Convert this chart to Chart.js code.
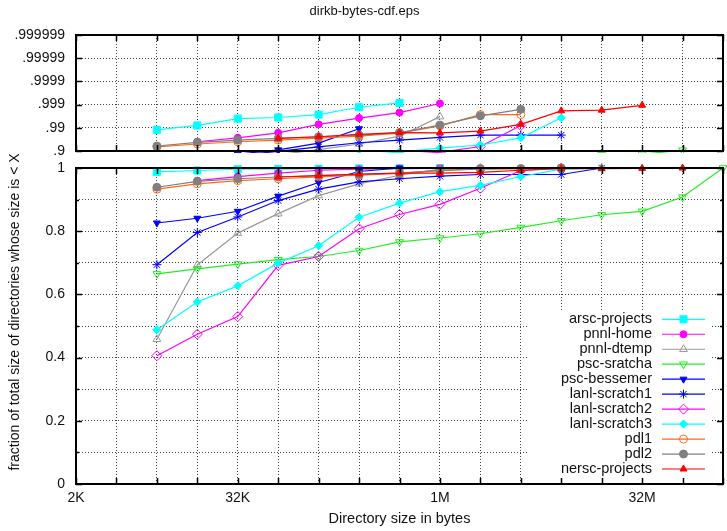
<!DOCTYPE html>
<html lang="en">
<head>
<meta charset="UTF-8">
<title>dirkb-bytes-cdf</title>
<style>
  html, body { margin: 0; padding: 0; background: #fff; }
  .wrap { position: relative; width: 727px; height: 531px; overflow: hidden; background: #fff;
          font-family: "Liberation Sans", Arial, sans-serif; }
  .wrap canvas { position: absolute; left: 0; top: 0; }
  .ytitle { position: absolute; left: -186px; top: 304px; width: 400px; height: 16px; line-height: 16px;
            text-align: center; font-size: 14px; color: #111; transform: rotate(-90deg); white-space: nowrap; }
</style>
</head>
<body>
<div class="wrap">
  <canvas id="topChart" width="729" height="531"></canvas>
  <canvas id="bottomChart" width="729" height="531"></canvas>
  <div class="ytitle">fraction of total size of directories whose size is &lt; X</div>
</div>

<script src="https://cdn.jsdelivr.net/npm/chart.js"></script>
<script>
// directory size buckets (bytes)
const sizes = [8192, 16384, 32768, 65536, 131072, 262144, 524288, 1048576,
               2097152, 4194304, 8388608, 16777216, 33554432, 67108864, 134217728];

const seriesNames = ['arsc-projects', 'pnnl-home', 'pnnl-dtemp', 'psc-sratcha', 'psc-bessemer',
                     'lanl-scratch1', 'lanl-scratch2', 'lanl-scratch3', 'pdl1', 'pdl2', 'nersc-projects'];

// cumulative fraction per bucket
const arscProjects  = [0.9878, 0.9921, 0.9960, 0.9964, 0.9973, 0.9987, 0.99915, 1, null, null, null, null, null, null, null];
const pnnlHome      = [null, 0.960, 0.973, 0.9836, 0.9929, 0.9962, 0.9978, 0.9991, 1, null, null, null, null, null, null];
const pnnlDtemp     = [0.458, 0.693, 0.794, 0.8555, 0.9125, 0.950, 0.977, 0.9967, 1, null, null, null, null, null, null];
const pscSratcha    = [0.665, 0.681, 0.696, 0.710, 0.720, 0.739, 0.766, 0.7785, 0.792, 0.812, 0.833, 0.852, 0.863, 0.908, 1];
const pscBessemer   = [0.826, 0.841, 0.863, 0.911, 0.954, 0.989, 1, null, null, null, null, null, null, null, null];
const lanlScratch1  = [0.694, 0.796, 0.845, 0.897, 0.933, 0.956, 0.966, 0.974, 0.9794, 0.9794, 0.9794, 1, null, null, null];
const lanlScratch2  = [0.406, 0.474, 0.530, 0.692, 0.720, 0.808, 0.853, 0.885, 0.936, 0.992, 1, null, null, null, null];
const lanlScratch3  = [0.488, 0.576, 0.627, 0.699, 0.754, 0.844, 0.889, 0.925, 0.945, 0.973, 0.9963, 1, null, null, null];
const pdl1          = [0.933, 0.950, 0.960, 0.966, 0.972, 0.977, 0.983, 0.9918, 0.9973, 0.9973, 1, null, null, null, null];
const pdl2          = [0.939, 0.9577, 0.966, 0.9715, 0.9757, 0.9794, 0.984, 0.9923, 0.99695, 0.9984, 1, null, null, null, null];
const nerscProjects = [null, null, null, 0.9715, 0.9757, 0.9808, 0.984, 0.9836, 0.9862, 0.9929, 0.99814, 0.99826, 0.99893, 1, null];

const seriesValues = [arscProjects, pnnlHome, pnnlDtemp, pscSratcha, pscBessemer,
                      lanlScratch1, lanlScratch2, lanlScratch3, pdl1, pdl2, nerscProjects];

// tick labels
const xTickValues = [2048, 32768, 1048576, 33554432];
const xTickLabels = ['2K', '32K', '1M', '32M'];
const nineLabels = ['.9', '.99', '.999', '.9999', '.99999', '.999999'];
const fracLabels = ['0', '0.2', '0.4', '0.6', '0.8', '1'];

// look of each series (gnuplot-ish)
const styles = [
  { color: '#00ffff', point: 'rect', radius: 5, fill: true },
  { color: '#ff00ff', point: 'circle', radius: 3.5, fill: true },
  { color: '#9a9a9a', point: 'triangle', radius: 4.5, fill: false },
  { color: '#22ee22', point: 'triangle', rotation: 180, radius: 4.5, fill: false },
  { color: '#0000ff', point: 'triangle', rotation: 180, radius: 4, fill: true },
  { color: '#0000ff', point: 'star', radius: 4.5, fill: false },
  { color: '#ff00ff', point: 'rectRot', radius: 5, fill: false },
  { color: '#00ffff', point: 'rectRot', radius: 4, fill: true },
  { color: '#ff6a1a', point: 'circle', radius: 4, fill: false },
  { color: '#808080', point: 'circle', radius: 4, fill: true },
  { color: '#ff0000', point: 'triangle', radius: 4, fill: true }
];

const FONT = '"Liberation Sans", Arial, sans-serif';
const TXT = '#111';

function makeSets(transform, clip) {
  return seriesNames.map((name, i) => {
    const st = styles[i];
    const bg = st.fill ? st.color : 'rgba(0,0,0,0)';
    return {
      label: name,
      data: sizes.map((s, j) => ({ x: s, y: transform(seriesValues[i][j]) })),
      borderColor: st.color,
      backgroundColor: bg,
      borderWidth: 1.2,
      pointStyle: st.point,
      pointRotation: st.rotation || 0,
      pointRadius: st.radius,
      pointHoverRadius: st.radius,
      pointBorderColor: st.color,
      pointBackgroundColor: bg,
      pointBorderWidth: 1,
      tension: 0,
      spanGaps: false,
      clip: clip,
      order: seriesNames.length - i
    };
  });
}

function doublingTicks(scale) {
  const t = [];
  for (let v = 2048; v <= 134217728; v *= 2) t.push({ value: v });
  scale.ticks = t;
}

// black frame + inward tick marks like gnuplot
const framePlugin = {
  id: 'frame',
  afterDraw(chart) {
    const { ctx, chartArea: a, scales } = chart;
    ctx.save();
    ctx.strokeStyle = '#000';
    ctx.lineWidth = 2;
    ctx.strokeRect(a.left, a.top, a.right - a.left, a.bottom - a.top);
    ctx.lineWidth = 1.5;
    ctx.beginPath();
    scales.x.ticks.forEach(t => {
      const px = Math.round(scales.x.getPixelForValue(t.value)) + 0.5;
      ctx.moveTo(px, a.bottom); ctx.lineTo(px, a.bottom - 6);
      ctx.moveTo(px, a.top); ctx.lineTo(px, a.top + 6);
    });
    scales.y.ticks.forEach(t => {
      const py = Math.round(scales.y.getPixelForValue(t.value)) + 0.5;
      const len = t.label ? 6 : 3;
      ctx.moveTo(a.left, py); ctx.lineTo(a.left + len, py);
      ctx.moveTo(a.right, py); ctx.lineTo(a.right - len, py);
    });
    ctx.stroke();
    ctx.restore();
  }
};

// key drawn inside the plot, text then line sample
const keyPlugin = {
  id: 'key',
  beforeDatasetsDraw(chart) {
    const { ctx, chartArea: a } = chart;
    const textRight = a.right - 71, lineL = a.right - 61, lineR = a.right - 18, y0 = a.top + 151.3, step = 14.97;
    ctx.save();
    ctx.fillStyle = '#fff';
    ctx.fillRect(a.right - 196, a.top + 144, 184, a.bottom - a.top - 146);
    ctx.font = '14.5px ' + FONT;
    ctx.textAlign = 'right';
    ctx.textBaseline = 'middle';
    seriesNames.forEach((name, i) => {
      const st = styles[i];
      const y = y0 + i * step;
      ctx.fillStyle = TXT;
      ctx.fillText(name, textRight, y);
      ctx.strokeStyle = st.color;
      ctx.lineWidth = 1.2;
      ctx.beginPath(); ctx.moveTo(lineL, y); ctx.lineTo(lineR, y); ctx.stroke();
      ctx.fillStyle = st.fill ? st.color : 'rgba(0,0,0,0)';
      ctx.lineWidth = 1;
      Chart.helpers.drawPoint(ctx, { pointStyle: st.point, rotation: st.rotation || 0, radius: st.radius, borderWidth: 1 },
                              (lineL + lineR) / 2, y);
    });
    ctx.restore();
  }
};

const gridStyle = { color: '#444', lineWidth: 1, drawTicks: false };
const borderStyle = { display: false, dash: [1, 2] };

// top panel: nines scale
new Chart(document.getElementById('topChart'), {
  type: 'line',
  data: { datasets: makeSets(v => (v == null || v >= 1) ? null : -Math.log10(1 - v), 2) },
  options: {
    responsive: false,
    animation: false,
    events: [],
    layout: { padding: { top: 0, left: 0, right: 0, bottom: 380 } },
    plugins: {
      legend: { display: false },
      tooltip: { enabled: false },
      title: { display: true, text: 'dirkb-bytes-cdf.eps', color: TXT,
               font: { family: FONT, size: 13, weight: 'normal' }, padding: { top: 4, bottom: 15.4 } }
    },
    scales: {
      x: {
        type: 'logarithmic', min: 2048, max: 134217728,
        afterBuildTicks: doublingTicks,
        afterFit: s => { s.height = 0; },
        ticks: { display: false, autoSkip: false },
        grid: gridStyle, border: borderStyle
      },
      y: {
        type: 'linear', min: 1, max: 6,
        afterFit: s => { s.width = 76; },
        ticks: { stepSize: 1, autoSkip: false, padding: 11, color: TXT, font: { family: FONT, size: 14 },
                 callback: v => nineLabels[Math.round(v) - 1] ?? '' },
        grid: gridStyle, border: borderStyle
      }
    }
  },
  plugins: [framePlugin]
});

// bottom panel: linear fraction
new Chart(document.getElementById('bottomChart'), {
  type: 'line',
  data: { datasets: makeSets(v => v, 8) },
  options: {
    responsive: false,
    animation: false,
    events: [],
    layout: { padding: { top: 168, left: 0, right: 0, bottom: 0 } },
    plugins: { legend: { display: false }, tooltip: { enabled: false } },
    scales: {
      x: {
        type: 'logarithmic', min: 2048, max: 134217728,
        afterBuildTicks: doublingTicks,
        afterFit: s => { s.height = 47; },
        ticks: { autoSkip: false, maxRotation: 0, padding: 6, color: TXT, font: { family: FONT, size: 14 },
                 callback: v => { const k = xTickValues.indexOf(v); return k >= 0 ? xTickLabels[k] : ''; } },
        title: { display: true, text: 'Directory size in bytes', color: TXT,
                 font: { family: FONT, size: 14.5 }, padding: { top: 0, bottom: 3 } },
        grid: gridStyle, border: borderStyle
      },
      y: {
        type: 'linear', min: 0, max: 1,
        afterFit: s => { s.width = 76; },
        ticks: { stepSize: 0.1, autoSkip: false, padding: 11, color: TXT, font: { family: FONT, size: 14 },
                 callback: v => { const k = Math.round(v * 10); return k % 2 === 0 ? fracLabels[k / 2] : ''; } },
        grid: gridStyle, border: borderStyle
      }
    }
  },
  plugins: [keyPlugin, framePlugin]
});
</script>
</body>
</html>
